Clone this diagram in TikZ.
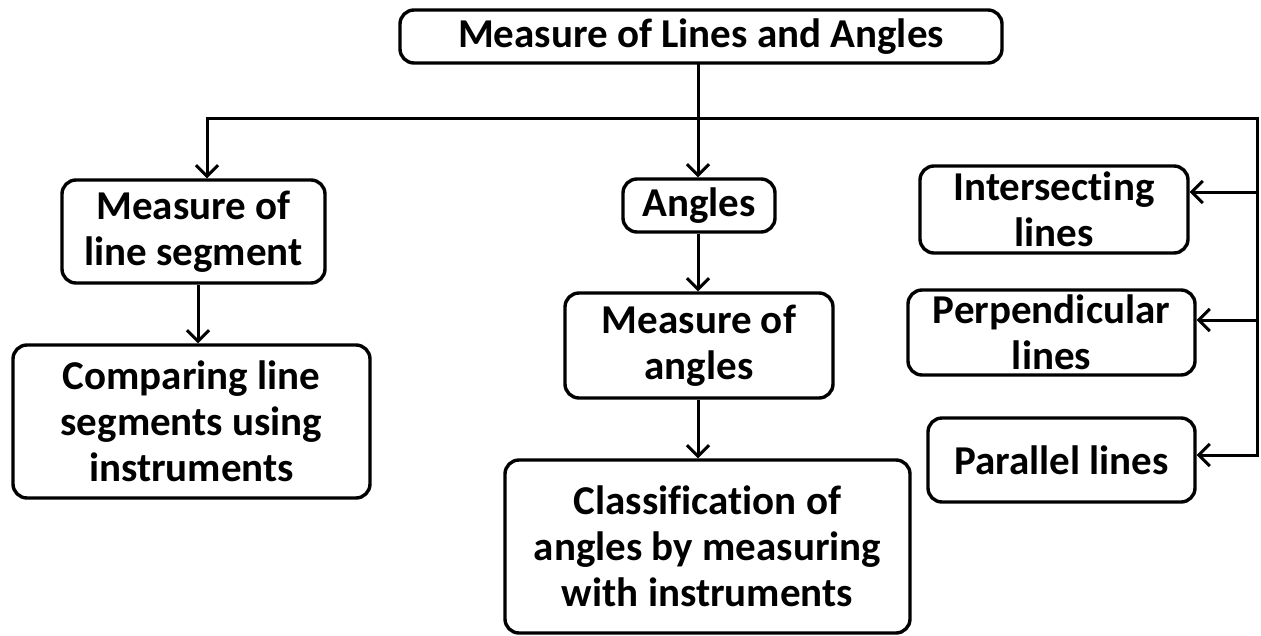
\documentclass[tikz,border=0pt]{standalone}
\usepackage{fontspec}
\setmainfont{Carlito}[Ligatures=NoCommon]
\usetikzlibrary{arrows.meta,calc}
\begin{document}
\begin{tikzpicture}[x=1pt,y=-1pt,
  box/.style={draw=black,line width=3.4pt,rounded corners=14pt,align=center,inner sep=0pt,
    font=\bfseries\fontsize{41}{46}\selectfont},
  conn/.style={line width=3pt,line cap=rect},
  arr/.style={line width=3pt,-{Straight Barb[length=11pt,width=22pt,line width=3pt]}}]
\useasboundingbox (0,0) rectangle (1261,635);
\node[box,minimum width=602,minimum height=53] (top) at (701,36.5) {Measure of Lines and Angles};
\node[box,minimum width=263,minimum height=103] (seg) at (193.5,231.5) {Measure of\\line segment};
\node[box,minimum width=357,minimum height=153] (cmp) at (191.5,421.5) {Comparing line\\segments using\\instruments};
\node[box,minimum width=152,minimum height=53] (ang) at (699,205.5) {Angles};
\node[box,minimum width=268,minimum height=105] (mang) at (699,345.5) {Measure of\\angles};
\node[box,minimum width=405,minimum height=173] (cls) at (707.5,546.5) {Classification of\\angles by measuring\\with instruments};
\node[box,minimum width=268,minimum height=87] (int) at (1054,209.5) {Intersecting\\lines};
\node[box,minimum width=287,minimum height=85] (perp) at (1051.5,332.5) {Perpendicular\\lines};
\node[box,minimum width=267,minimum height=84] (par) at (1061.5,460) {Parallel lines};
\coordinate (hl) at (207,118);
\coordinate (hm) at (698,118);
\coordinate (hr) at (1257,118);
\coordinate (ia) at (1257,192);
\coordinate (pa) at (1257,320);
\coordinate (qa) at (1257,455);
\draw[conn] (top.south -| hm) -- (hm);
\draw[conn] (hl) -- (hr) -- (qa);
\draw[arr] (hl) -- (hl |- seg.north);
\draw[arr] (hm) -- (hm |- ang.north);
\draw[arr] (ia) -- (ia -| int.east);
\draw[arr] (pa) -- (pa -| perp.east);
\draw[arr] (qa) -- (qa -| par.east);
\draw[arr] ([xshift=4.5pt]seg.south) -- ([xshift=4.5pt]seg.south |- cmp.north);
\draw[arr] (ang.south -| hm) -- (hm |- mang.north);
\draw[arr] (mang.south -| hm) -- (hm |- cls.north);
\end{tikzpicture}
\end{document}
